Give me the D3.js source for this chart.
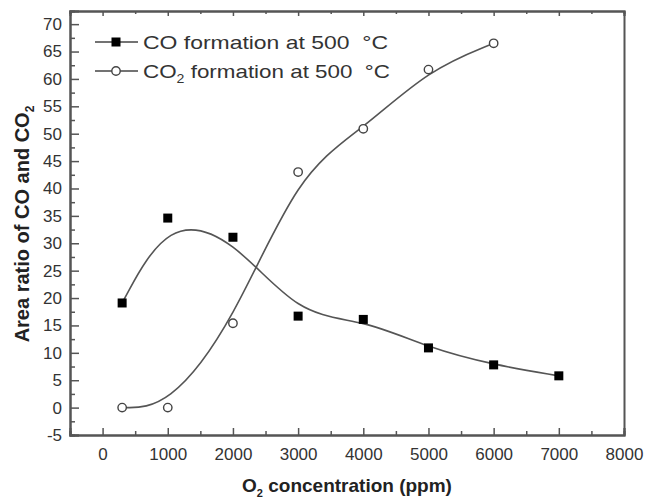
<!DOCTYPE html>
<html><head><meta charset="utf-8">
<script src="https://cdn.jsdelivr.net/npm/d3@7"></script>
<style>body{margin:0;background:#fff}svg{display:block}text{font-family:"Liberation Sans",Arial,sans-serif}</style>
</head><body><svg id="c" width="646" height="499"></svg>
<script>
const coX = [300, 1000, 2000, 3000, 4000, 5000, 6000, 7000];
const coY = [19.1, 34.6, 31.1, 16.7, 16.1, 10.9, 7.8, 5.8];
const co2X = [300, 1000, 2000, 3000, 4000, 5000, 6000];
const co2Y = [0, 0, 15.4, 43.0, 50.9, 61.7, 66.5];
const xTicks = [0, 1000, 2000, 3000, 4000, 5000, 6000, 7000, 8000];
const yTicks = [-5, 0, 5, 10, 15, 20, 25, 30, 35, 40, 45, 50, 55, 60, 65, 70];
const xMinor = [-500, 500, 1500, 2500, 3500, 4500, 5500, 6500, 7500];
const yMinor = [-2.5, 2.5, 7.5, 12.5, 17.5, 22.5, 27.5, 32.5, 37.5, 42.5, 47.5, 52.5, 57.5, 62.5, 67.5];

const svg = d3.select("#c");
const L = 70, R = 624, T = 11, B = 435;
const x = d3.scaleLinear().domain([-500, 8000]).range([L, R]);
const y = d3.scaleLinear().domain([-5, 72.4]).range([B, T]);
const axisCol = "#555", textCol = "#333";

// curves
const line = d3.line().x(d => x(d[0])).y(d => y(d[1])).curve(d3.curveBasis);
const coData = coX.map((v, i) => [v, coY[i]]);
const co2Data = co2X.map((v, i) => [v, co2Y[i]]);
svg.append("path").attr("d", line(coData)).attr("fill", "none").attr("stroke", "#555").attr("stroke-width", 1.6);
svg.append("path").attr("d", line(co2Data)).attr("fill", "none").attr("stroke", "#555").attr("stroke-width", 1.6);

// markers
svg.selectAll(".sq").data(coData).join("rect")
  .attr("x", d => x(d[0]) - 4.5).attr("y", d => y(d[1]) - 4.5)
  .attr("width", 9).attr("height", 9).attr("fill", "#000");
svg.selectAll(".ci").data(co2Data).join("circle")
  .attr("cx", d => x(d[0])).attr("cy", d => y(d[1])).attr("r", 4.2)
  .attr("fill", "#fff").attr("stroke", "#444").attr("stroke-width", 1.4);

// axes
const fmt = d => String(d);
const gB = svg.append("g").attr("transform", `translate(0,${B})`)
  .call(d3.axisBottom(x).tickValues(xTicks).tickSize(-7).tickPadding(13).tickFormat(fmt));
const gBm = svg.append("g").attr("transform", `translate(0,${B})`)
  .call(d3.axisBottom(x).tickValues(xMinor).tickSize(-4).tickFormat(""));
const gT = svg.append("g").attr("transform", `translate(0,${T})`)
  .call(d3.axisTop(x).tickValues(xTicks).tickSize(-5).tickFormat(""));
const gTm = svg.append("g").attr("transform", `translate(0,${T})`)
  .call(d3.axisTop(x).tickValues(xMinor).tickSize(-3).tickFormat(""));
const gL = svg.append("g").attr("transform", `translate(${L},0)`)
  .call(d3.axisLeft(y).tickValues(yTicks).tickSize(-9).tickPadding(8).tickFormat(fmt));
const gLm = svg.append("g").attr("transform", `translate(${L},0)`)
  .call(d3.axisLeft(y).tickValues(yMinor).tickSize(-5).tickFormat(""));
const gR = svg.append("g").attr("transform", `translate(${R},0)`)
  .call(d3.axisRight(y).tickValues([]).tickSize(0));
[gB, gBm, gT, gTm, gL, gLm, gR].forEach(g => {
  g.select(".domain").attr("stroke", axisCol).attr("stroke-width", 2);
  g.selectAll(".tick line").attr("stroke", axisCol).attr("stroke-width", 1.5);
  g.selectAll(".tick text").attr("fill", textCol).style("font-size", "17px").style("font-family", "Liberation Sans, Arial, sans-serif");
});

// axis titles
const xt = svg.append("text").attr("x", 347).attr("y", 492).attr("text-anchor", "middle")
  .attr("fill", "#222").style("font-size", "19px").style("font-weight", "bold");
xt.append("tspan").text("O");
xt.append("tspan").attr("dy", 5).style("font-size", "11px").text("2");
xt.append("tspan").attr("dy", -5).text(" concentration (ppm)");

const yt = svg.append("text").attr("transform", "translate(29,224) rotate(-90)").attr("text-anchor", "middle")
  .attr("fill", "#222").style("font-size", "20px").style("font-weight", "bold");
yt.append("tspan").text("Area ratio of CO and CO");
yt.append("tspan").attr("dy", 5).style("font-size", "12px").text("2");

// legend
const leg = [
  {y: 42, type: "sq", label: "CO", sub: "", rest: " formation at 500\u00a0\u00a0°C", len: 245},
  {y: 71, type: "ci", label: "CO", sub: "2", rest: " formation at 500\u00a0\u00a0°C", len: 247}
];
leg.forEach(d => {
  svg.append("line").attr("x1", 95).attr("x2", 138).attr("y1", d.y).attr("y2", d.y)
    .attr("stroke", "#444").attr("stroke-width", 1.6);
  if (d.type === "sq") svg.append("rect").attr("x", 116 - 4.5).attr("y", d.y - 4.5).attr("width", 9).attr("height", 9).attr("fill", "#000");
  else svg.append("circle").attr("cx", 116).attr("cy", d.y).attr("r", 4.2).attr("fill", "#fff").attr("stroke", "#444").attr("stroke-width", 1.4);
  const t = svg.append("text").attr("x", 143).attr("y", d.y + 6.5).attr("fill", textCol).style("font-size", "19px")
    .attr("textLength", d.len).attr("lengthAdjust", "spacingAndGlyphs");
  t.append("tspan").text(d.label);
  if (d.sub) {
    t.append("tspan").attr("dy", 5).style("font-size", "12px").text(d.sub);
    t.append("tspan").attr("dy", -5).text(d.rest);
  } else t.append("tspan").text(d.rest);
});
</script></body></html>
